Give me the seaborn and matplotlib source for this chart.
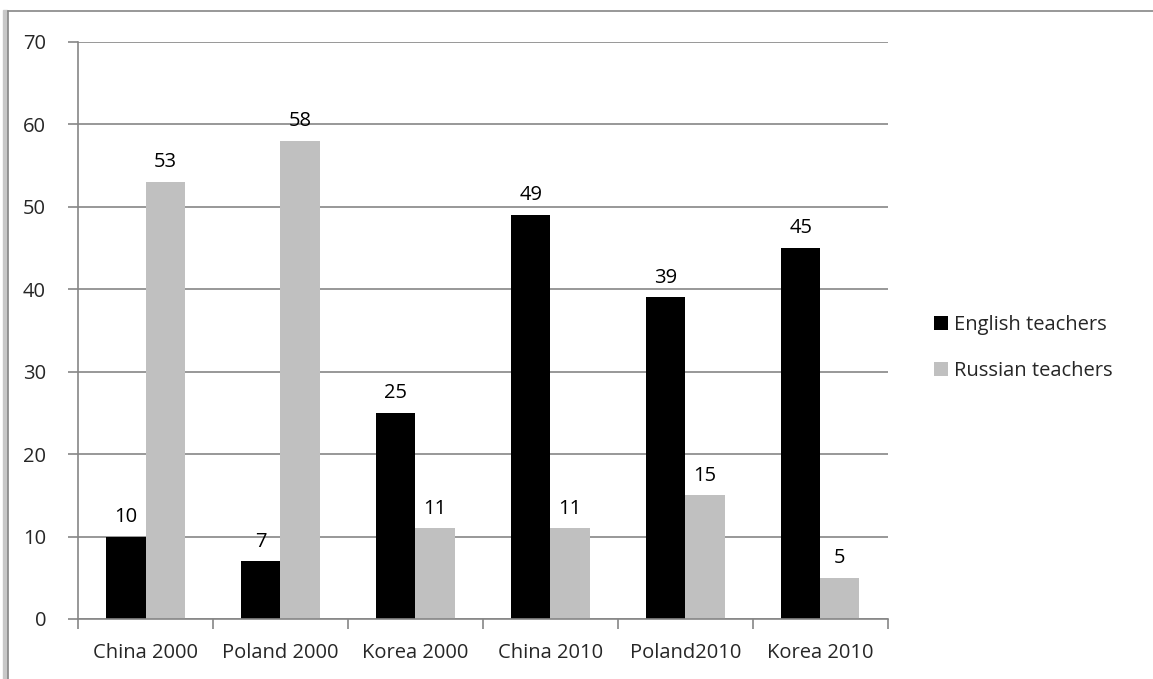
import pandas as pd
import numpy as np
import matplotlib.pyplot as plt
import matplotlib.patches as mpatches
import seaborn as sns

# data
categories = ['China 2000', 'Poland 2000', 'Korea 2000', 'China 2010', 'Poland2010', 'Korea 2010']
english = [10, 7, 25, 49, 39, 45]
russian = [53, 58, 11, 11, 15, 5]
series = ['English teachers', 'Russian teachers']

df = pd.DataFrame({
    'category': categories * 2,
    'value': english + russian,
    'series': [series[0]] * len(categories) + [series[1]] * len(categories),
})

sns.set_style('white')
plt.rcParams['font.family'] = ['Open Sans', 'DejaVu Sans']
fs = 14.5

fig = plt.figure(figsize=(11.53, 6.79), dpi=100)
ax = fig.add_axes([0.0677, 0.0884, 0.7023, 0.8498])

sns.barplot(data=df, x='category', y='value', hue='series', order=categories,
            hue_order=series, palette=['#000000', '#c0c0c0'], width=0.58,
            saturation=1, linewidth=0, ax=ax, legend=True)

for cont in ax.containers:
    ax.bar_label(cont, padding=7, fontsize=fs, color='#000000')

ax.set_ylim(0, 70)
ax.set_yticks(np.arange(0, 71, 10))
ax.set_xlim(-0.5, len(categories) - 0.5)
ax.set_xlabel('')
ax.set_ylabel('')
ax.yaxis.grid(True, color='#868686', linewidth=1.2)
ax.set_axisbelow(True)

for s in ['top', 'right']:
    ax.spines[s].set_visible(False)
for s in ['left', 'bottom']:
    ax.spines[s].set_color('#868686')
    ax.spines[s].set_linewidth(1.2)

# category boundary ticks like Excel
ax.set_xticks(np.arange(len(categories)))
ax.set_xticklabels(categories, fontsize=fs)
ax.set_xticks(np.arange(-0.5, len(categories)), minor=True)
ax.tick_params(axis='x', which='major', length=0, pad=17)
ax.tick_params(axis='x', which='minor', length=7, width=1.2, color='#868686', direction='out')
ax.tick_params(axis='y', length=7, width=1.2, color='#868686', direction='out', labelsize=fs, pad=16)
ax.tick_params(bottom=True, left=True, which='both')

ax.legend(loc='center left', bbox_to_anchor=(1.035, 0.47), frameon=False, fontsize=fs,
          handlelength=0.7, handleheight=0.7, handletextpad=0.3, labelspacing=1.3)

# outer frame lines of the original screenshot
fig.patches.append(mpatches.Rectangle((0.003, 0), 0.0035, 0.985, transform=fig.transFigure,
                                      color='#c8c8c8', zorder=0))
fig.lines.append(plt.Line2D([0.007, 0.007], [0, 0.984], transform=fig.transFigure,
                            color='#868686', linewidth=1.2))
fig.lines.append(plt.Line2D([0.007, 1], [0.984, 0.984], transform=fig.transFigure,
                            color='#868686', linewidth=1.2))

fig.savefig('out.png', dpi=100)
